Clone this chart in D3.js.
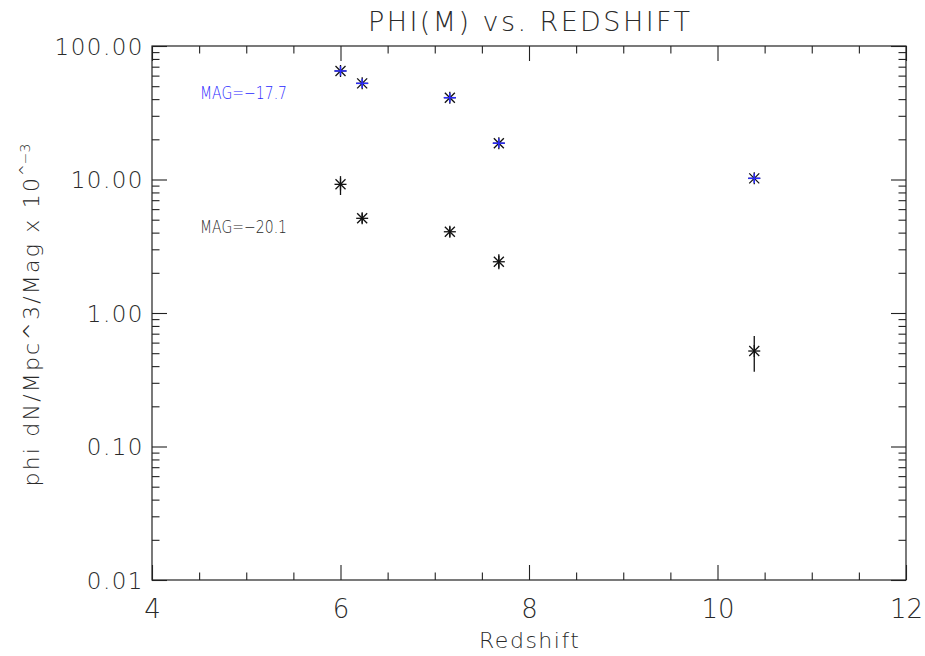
<!DOCTYPE html>
<html>
<head>
<meta charset="utf-8">
<script src="https://cdn.jsdelivr.net/npm/d3@7"></script>
<style>
  html, body { margin: 0; padding: 0; background: #fff; }
  svg { display: block; }
  text { font-family: "DejaVu Sans", "Liberation Sans", sans-serif; font-weight: 200; fill: #2a2a2a; }
</style>
</head>
<body>
<svg id="chart" width="925" height="656"></svg>
<script>
// ---- data ----
const redshift = [6.0, 6.23, 7.16, 7.68, 10.39];
const phiFaint = [65.0, 52.5, 41.0, 18.7, 10.2];          // MAG = -17.7 (blue)
const phiFaintLo = [60.0, 48.5, 37.8, 17.3, 9.4];
const phiFaintHi = [70.5, 56.9, 44.5, 20.3, 11.1];
const phiBright = [9.2, 5.12, 4.06, 2.42, 0.519];          // MAG = -20.1 (black)
const phiBrightLo = [7.65, 4.70, 3.72, 2.13, 0.363];
const phiBrightHi = [10.6, 5.58, 4.43, 2.76, 0.673];
const xTicks = [4, 6, 8, 10, 12];
const yTicks = [0.01, 0.1, 1, 10, 100];
const yTickLabels = ["0.01", "0.10", "1.00", "10.00", "100.00"];

const svg = d3.select("#chart");
const L = 152, R = 906, T = 46, B = 580;
const x = d3.scaleLinear().domain([4, 12]).range([L, R]);
const y = d3.scaleLog().domain([0.01, 100]).range([B, T]);
const axisColor = "#222";

// minor ticks
const xMinor = d3.range(4, 12.001, 0.5).filter(v => !xTicks.includes(v));
const yMinor = [];
[0.01, 0.1, 1, 10].forEach(d => { for (let k = 2; k <= 9; k++) yMinor.push(d * k); });

function addAxis(axisGen, transform) {
  const g = svg.append("g").attr("transform", transform).call(axisGen);
  g.selectAll(".domain").remove();
  g.selectAll("line").attr("stroke", axisColor).attr("stroke-width", 1.1);
  return g;
}
// bottom
const gxB = addAxis(d3.axisBottom(x).tickValues(xTicks).tickSize(-15).tickFormat(d3.format("d")), `translate(0,${B})`);
gxB.selectAll("text").attr("dy", 0).attr("y", 38).style("font-size", "26px")
  .style("font-family", "\"DejaVu Sans\", sans-serif").attr("fill", "#2a2a2a");
addAxis(d3.axisBottom(x).tickValues(xMinor).tickSize(-7.5).tickFormat(""), `translate(0,${B})`);
// top
addAxis(d3.axisTop(x).tickValues(xTicks).tickSize(-15).tickFormat(""), `translate(0,${T})`);
addAxis(d3.axisTop(x).tickValues(xMinor).tickSize(-7.5).tickFormat(""), `translate(0,${T})`);
// left
const gyL = addAxis(d3.axisLeft(y).tickValues(yTicks).tickSize(-15).tickFormat((d, i) => yTickLabels[i]), `translate(${L},0)`);
gyL.selectAll("text").attr("x", -8).attr("dy", "0.36em").style("font-size", "23px")
  .style("letter-spacing", "1.5px").style("font-family", "\"DejaVu Sans\", sans-serif").attr("fill", "#2a2a2a");
addAxis(d3.axisLeft(y).tickValues(yMinor).tickSize(-7.5).tickFormat(""), `translate(${L},0)`);
// right
addAxis(d3.axisRight(y).tickValues(yTicks).tickSize(-15).tickFormat(""), `translate(${R},0)`);
addAxis(d3.axisRight(y).tickValues(yMinor).tickSize(-7.5).tickFormat(""), `translate(${R},0)`);

// frame
svg.append("rect").attr("x", L).attr("y", T).attr("width", R - L).attr("height", B - T)
  .attr("fill", "none").attr("stroke", axisColor).attr("stroke-width", 1.2);

// title and labels
svg.append("text").attr("x", (L + R) / 2).attr("y", 31).attr("text-anchor", "middle")
  .style("font-size", "27px").attr("textLength", 322).attr("lengthAdjust", "spacing")
  .text("PHI(M) vs. REDSHIFT");
svg.append("text").attr("x", (L + R) / 2).attr("y", 648).attr("text-anchor", "middle")
  .style("font-size", "22px").attr("textLength", 100).attr("lengthAdjust", "spacing")
  .text("Redshift");
const yl = svg.append("text").attr("transform", `translate(39,${(T + B) / 2 + 2}) rotate(-90)`)
  .attr("text-anchor", "middle").style("font-size", "22px").style("letter-spacing", "2.2px");
yl.append("tspan").text("phi dN/Mpc^3/Mag x 10");
yl.append("tspan").attr("dy", -9).style("font-size", "14px").style("letter-spacing", "0px").text("^−3");

// series labels
svg.append("text").attr("x", 200).attr("y", 99).style("font-size", "18px")
  .attr("textLength", 87).attr("lengthAdjust", "spacingAndGlyphs").style("fill", "#2a2aff").text("MAG=−17.7");
svg.append("text").attr("x", 200).attr("y", 233).style("font-size", "18px")
  .attr("textLength", 87).attr("lengthAdjust", "spacingAndGlyphs").text("MAG=−20.1");

// markers
const s = 6;
function asterisk(g, cx, cy, color) {
  const segs = [[-s, 0, s, 0], [0, -s, 0, s], [-s + 1, -s + 1, s - 1, s - 1], [-s + 1, s - 1, s - 1, -s + 1]];
  segs.forEach(p => g.append("line").attr("x1", cx + p[0]).attr("y1", cy + p[1])
    .attr("x2", cx + p[2]).attr("y2", cy + p[3]).attr("stroke", color).attr("stroke-width", 1.3));
}
const gB = svg.append("g");
redshift.forEach((z, i) => {
  const cx = x(z), cy = y(phiBright[i]);
  gB.append("line").attr("x1", cx).attr("x2", cx).attr("y1", y(phiBrightHi[i])).attr("y2", y(phiBrightLo[i]))
    .attr("stroke", "#111").attr("stroke-width", 1.3);
  asterisk(gB, cx, cy, "#111");
});
const gF = svg.append("g");
redshift.forEach((z, i) => {
  const cx = x(z), cy = y(phiFaint[i]);
  asterisk(gF, cx, cy, "#111");
  gF.append("line").attr("x1", cx).attr("x2", cx).attr("y1", y(phiFaintHi[i])).attr("y2", y(phiFaintLo[i]))
    .attr("stroke", "#2a2aff").attr("stroke-width", 1.5);
  gF.append("line").attr("x1", cx - s).attr("x2", cx + s).attr("y1", cy).attr("y2", cy)
    .attr("stroke", "#2a2aff").attr("stroke-width", 1.5);
});
</script>
</body>
</html>
